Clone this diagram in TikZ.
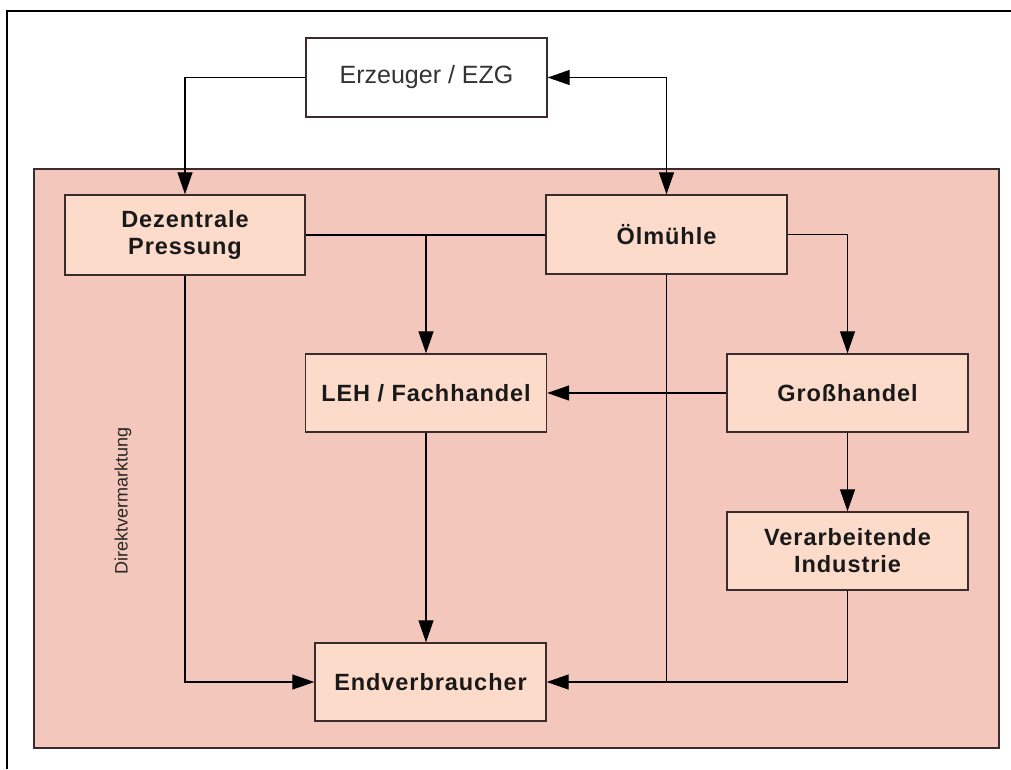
\documentclass[tikz,border=0pt]{standalone}
\usepackage{fontspec}
\setmainfont{Liberation Sans}
\newfontfamily\trk{Liberation Sans}[LetterSpace=4]
\usetikzlibrary{arrows.meta}
\definecolor{region}{HTML}{F4C7BC}
\definecolor{boxfill}{HTML}{FCDBCB}
\definecolor{boxline}{HTML}{3A2C2C}
\begin{document}
\begin{tikzpicture}[x=1pt,y=-1pt,
  box/.style={draw=boxline, line width=1.4pt, fill=boxfill, minimum width=241pt,
    minimum height=79pt, inner sep=0pt, align=center,
    font=\trk\bfseries\fontsize{23.5}{27}\selectfont, text=black!90},
  conn/.style={line width=1.3pt, black},
  arr/.style={conn, -{Triangle[length=22pt,width=15pt]}},
  darr/.style={conn, {Triangle[length=22pt,width=15pt]}-{Triangle[length=22pt,width=15pt]}},
]
\useasboundingbox (0,0) rectangle (1011,769);
\draw[line width=1.2pt] (7,769) -- (7,11) -- (1011,11);
\node[draw=boxline, line width=1.3pt, fill=region, minimum width=965pt,
  minimum height=579pt, inner sep=0pt] (region) at (516.5,458.5) {};

\node[box, fill=white, font=\fontsize{25}{30}\selectfont, text=black!80] (ezg) at (426.5,77.5) {Erzeuger / EZG};
\node[box, minimum width=240pt, minimum height=80pt] (dez) at (185,235) {Dezentrale\\Pressung};
\node[box] (oel) at (666.5,234.5) {Ölmühle};
\node[box, minimum height=78pt] (leh) at (426,393) {LEH / Fachhandel};
\node[box, minimum height=78pt] (gh) at (847.5,393) {Großhandel};
\node[box, minimum height=78pt] (vi) at (847.5,551) {Verarbeitende\\Industrie};
\node[box, minimum width=231pt, minimum height=78pt] (ev) at (430.5,682) {Endverbraucher};
\node[rotate=90, font=\fontsize{18}{20}\selectfont, text=black!85] (dv) at (123,501) {Direktvermarktung};

\draw[arr] (ezg.west) -| (dez.north);
\draw[darr] (ezg.east) -| (oel.north);
\draw[conn] (dez.east) -- (dez.east -| oel.west);
\draw[arr] (leh.north |- dez.east) -- (leh.north);
\draw[arr] (oel.east) -| (gh.north);
\draw[arr] (gh.west) -- (leh.east);
\draw[arr] (gh.south) -- (vi.north);
\draw[arr] (leh.south) -- (leh.south |- ev.north);
\draw[arr] (dez.south) |- (ev.west);
\draw[arr] (oel.south) |- (ev.east);
\draw[conn] (vi.south) |- (oel.south |- ev.east);
\end{tikzpicture}
\end{document}
